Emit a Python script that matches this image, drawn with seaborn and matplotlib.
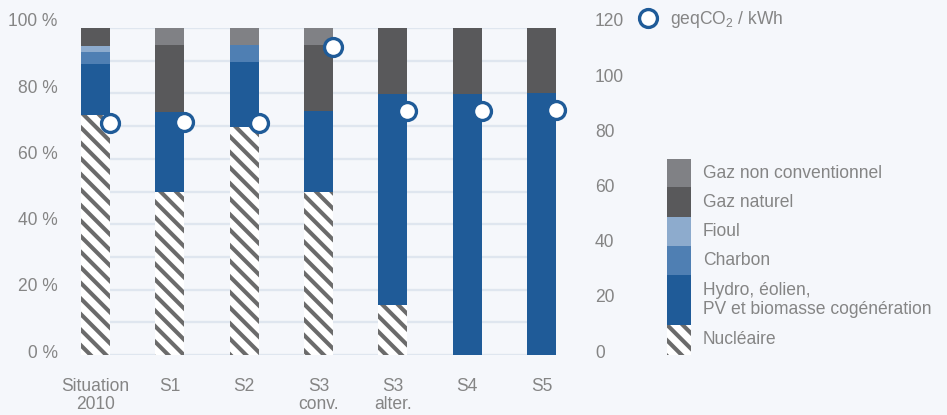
import matplotlib
matplotlib.use("Agg")
import matplotlib.pyplot as plt
import seaborn as sns
import numpy as np
import pandas as pd
from matplotlib.lines import Line2D

# Données
categories = ["Situation\n2010", "S1", "S2", "S3\nconv.", "S3\nalter.", "S4", "S5"]
nucleaire = [73.4, 50.0, 69.7, 50.0, 15.3, 0.0, 0.0]
hydro = [15.6, 24.3, 19.9, 24.6, 64.5, 79.8, 80.1]
charbon = [3.7, 0.0, 5.2, 0.0, 0.0, 0.0, 0.0]
fioul = [1.8, 0.0, 0.0, 0.0, 0.0, 0.0, 0.0]
gaz_naturel = [5.5, 20.5, 0.0, 20.2, 20.2, 20.2, 19.9]
gaz_non_conv = [0.0, 5.2, 5.2, 5.2, 0.0, 0.0, 0.0]
co2 = [82.7, 83.0, 82.7, 110.2, 87.0, 87.0, 87.4]

sources = ["Nucléaire", "Hydro, éolien,\nPV et biomasse cogénération",
           "Charbon", "Fioul", "Gaz naturel", "Gaz non conventionnel"]
valeurs = [nucleaire, hydro, charbon, fioul, gaz_naturel, gaz_non_conv]
couleurs = ["white", "#1f5b98", "#4f7fb3", "#8dabcd", "#59595b", "#808185"]
hachures = ["\\\\\\", None, None, None, None, None]

BG = "#f5f7fb"
GRID = "#dfe6ef"
TXT = "#858585"
HATCH = "#6b6b6b"
BLEU = "#1f5b98"

sns.set_theme(style="white")
plt.rcParams["font.family"] = ["Liberation Sans", "DejaVu Sans"]
plt.rcParams["mathtext.default"] = "regular"
plt.rcParams["hatch.color"] = HATCH
plt.rcParams["hatch.linewidth"] = 2.1

DPI = 140
fig = plt.figure(figsize=(947 / DPI, 415 / DPI), dpi=DPI, facecolor=BG)

# Axe des barres (0 % en bas, 100 % en haut)
ax = fig.add_axes([81 / 947, 60 / 415, 475 / 947, 327 / 415])
ax.set_facecolor(BG)
width = 0.39
x = np.arange(len(categories))
bottom = np.zeros(len(categories))
for vals, col, h in zip(valeurs, couleurs, hachures):
    vals = np.array(vals)
    ax.bar(x, vals, width=width, bottom=bottom, color=col, hatch=h,
           edgecolor=HATCH if h else col, linewidth=0, zorder=2)
    bottom += vals
ax.set_xlim(-width / 2, len(categories) - 1 + width / 2)
ax.set_ylim(0, 100)
ax.set_yticks(np.arange(0, 101, 10))
ax.yaxis.grid(True, color=GRID, linewidth=1.2, zorder=0)
ax.set_yticklabels([])
ax.set_xticks(x)
ax.set_xticklabels(categories, color=TXT, fontsize=9, linespacing=1.05)
ax.tick_params(axis="x", length=0, pad=12)
ax.tick_params(axis="y", length=0)
sns.despine(ax=ax, left=True, bottom=True)

# Axes des libellés (gauche %) et du CO2 (droite)
ax_lab = fig.add_axes([81 / 947, 64 / 415, 475 / 947, 331 / 415])
ax_lab.patch.set_visible(False)
ax_lab.set_xlim(ax.get_xlim())
ax_lab.set_ylim(0, 100)
ax_lab.set_yticks(np.arange(0, 101, 20))
ax_lab.set_yticklabels([f"{v} %" for v in range(0, 101, 20)], color=TXT, fontsize=9)
ax_lab.set_xticks([])
ax_lab.tick_params(axis="y", length=0, pad=12)
sns.despine(ax=ax_lab, left=True, bottom=True)

ax_co2 = ax_lab.twinx()
ax_co2.set_ylim(0, 120)
ax_co2.set_yticks(np.arange(0, 121, 20))
ax_co2.set_yticklabels([str(v) for v in range(0, 121, 20)], color=TXT, fontsize=9)
ax_co2.tick_params(axis="y", length=0, pad=20)
for s in ax_co2.spines.values():
    s.set_visible(False)

df_co2 = pd.DataFrame({"x": x + width / 2, "co2": co2})
sns.scatterplot(data=df_co2, x="x", y="co2", ax=ax_co2, s=85, marker="o",
                facecolor="white", edgecolor=BLEU, linewidth=1.7,
                clip_on=False, zorder=5, legend=False)
ax_co2.set_xlabel("")
ax_co2.set_ylabel("")
ax_co2.set_xlim(ax.get_xlim())

# Légende CO2
h_co2 = Line2D([], [], marker="o", linestyle="none", markersize=9.2,
               markerfacecolor="white", markeredgecolor=BLEU, markeredgewidth=1.7)
fig.legend(handles=[h_co2], labels=["geqCO$_2$ / kWh"], loc="center left",
           bbox_to_anchor=(639 / 947, 1 - 20 / 415), frameon=False,
           borderpad=0, borderaxespad=0, handlelength=1.0, handletextpad=0.75,
           labelcolor=TXT, fontsize=9)

# Légende des sources (pavés empilés)
ax_leg = fig.add_axes([667 / 947, 60 / 415, 24 / 947, 196 / 415])
ax_leg.set_axis_off()
hauteurs = [30, 50, 29, 29, 30, 28]
b = 0
for lab, col, h, hh in zip(sources, couleurs, hachures, hauteurs):
    ax_leg.bar(0.5, hh, width=1, bottom=b, color=col, hatch=h,
               edgecolor=HATCH if h else col, linewidth=0)
    ax_leg.text(1.5, b + hh / 2, lab, va="center", ha="left", color=TXT,
                fontsize=9, linespacing=1.1)
    b += hh
ax_leg.set_xlim(0, 1)
ax_leg.set_ylim(0, b)

fig.savefig("out.png", dpi=DPI, facecolor=BG)
